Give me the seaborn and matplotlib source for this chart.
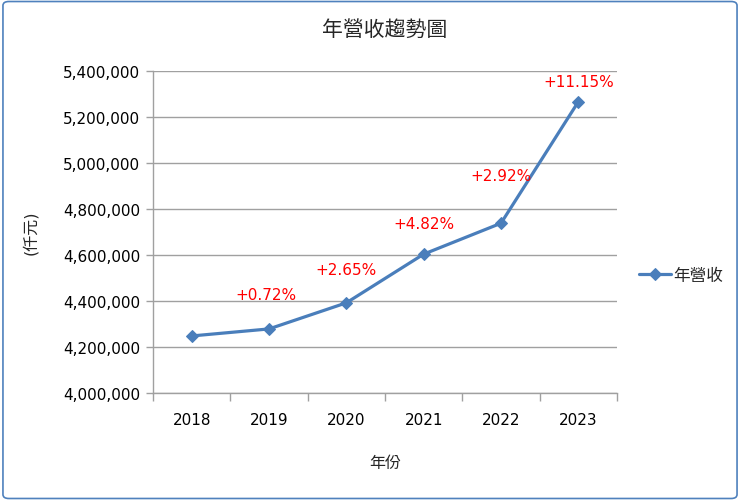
import matplotlib
matplotlib.use("Agg")
import matplotlib.pyplot as plt
import matplotlib.patches as mpatches
import matplotlib.ticker as mticker
import pandas as pd
import seaborn as sns

years = ["2018", "2019", "2020", "2021", "2022", "2023"]
revenue = [4248000, 4278600, 4392000, 4603700, 4738100, 5266400]
growth = ["", "+0.72%", "+2.65%", "+4.82%", "+2.92%", "+11.15%"]
y_ticks = [4000000, 4200000, 4400000, 4600000, 4800000, 5000000, 5200000, 5400000]

df = pd.DataFrame({"年份": years, "年營收": revenue})

sns.set_theme(style="white")
plt.rcParams["font.family"] = ["DejaVu Sans", "Noto Sans CJK TC"]

fig = plt.figure(figsize=(7.4, 5.02), dpi=100)
ax = fig.add_axes([153 / 740, 1 - 394 / 502, (617 - 153) / 740, (394 - 72) / 502])

line_color = "#4A7EBB"
sns.lineplot(data=df, x="年份", y="年營收", ax=ax, color=line_color, linewidth=2.3,
             marker="D", markersize=6, markeredgecolor=line_color, label="年營收")

# label offsets in pixels above each point
offsets = [0, 34, 33, 31, 48, 20]
for i, (yr, val, g) in enumerate(zip(years, revenue, growth)):
    if g:
        ax.annotate(g, (i, val), xytext=(-3 if i == 1 else 0, offsets[i]),
                    textcoords="offset pixels", ha="center", va="center",
                    color="#FF0000", fontsize=11)

ax.set_xlim(-0.5, len(years) - 0.5)
ax.set_ylim(y_ticks[0], y_ticks[-1])
ax.set_yticks(y_ticks)
ax.yaxis.set_major_formatter(mticker.FuncFormatter(lambda v, p: f"{int(v):,}"))
ax.set_xticks(range(len(years)))
ax.set_xticklabels(years)
ax.set_xticks([i - 0.5 for i in range(len(years) + 1)], minor=True)

ax.grid(axis="y", color="#A0A0A0", linewidth=1)
ax.grid(axis="x", visible=False)
for s in ["top", "right"]:
    ax.spines[s].set_visible(False)
for s in ["left", "bottom"]:
    ax.spines[s].set_color("#A0A0A0")
    ax.spines[s].set_linewidth(1)

ax.tick_params(axis="x", which="major", length=0, pad=14, labelsize=11, colors="black")
ax.tick_params(axis="x", which="minor", length=6, width=1, color="#A0A0A0", direction="out", bottom=True)
ax.tick_params(axis="y", which="major", length=5, width=1, color="#A0A0A0", direction="out", left=True,
               labelsize=11, colors="black", pad=4)
for lab in ax.get_yticklabels():
    lab.set_color("black")

ax.set_xlabel("年份", fontsize=11.5, labelpad=20)
ax.set_ylabel("(仟元)", fontsize=11.5, labelpad=18)
ax.set_title("年營收趨勢圖", fontsize=15, pad=26)

ax.legend(loc="center left", bbox_to_anchor=(1.016, 0.366), frameon=False, fontsize=12,
          handlelength=1.9, handletextpad=0.15)

fig.patches.append(mpatches.FancyBboxPatch((0.004, 0.005), 0.992, 0.99, boxstyle="round,pad=0,rounding_size=0.008",
                                           transform=fig.transFigure, fill=False,
                                           edgecolor="#4F81BD", linewidth=1.2))

fig.savefig("out.png", dpi=100)
